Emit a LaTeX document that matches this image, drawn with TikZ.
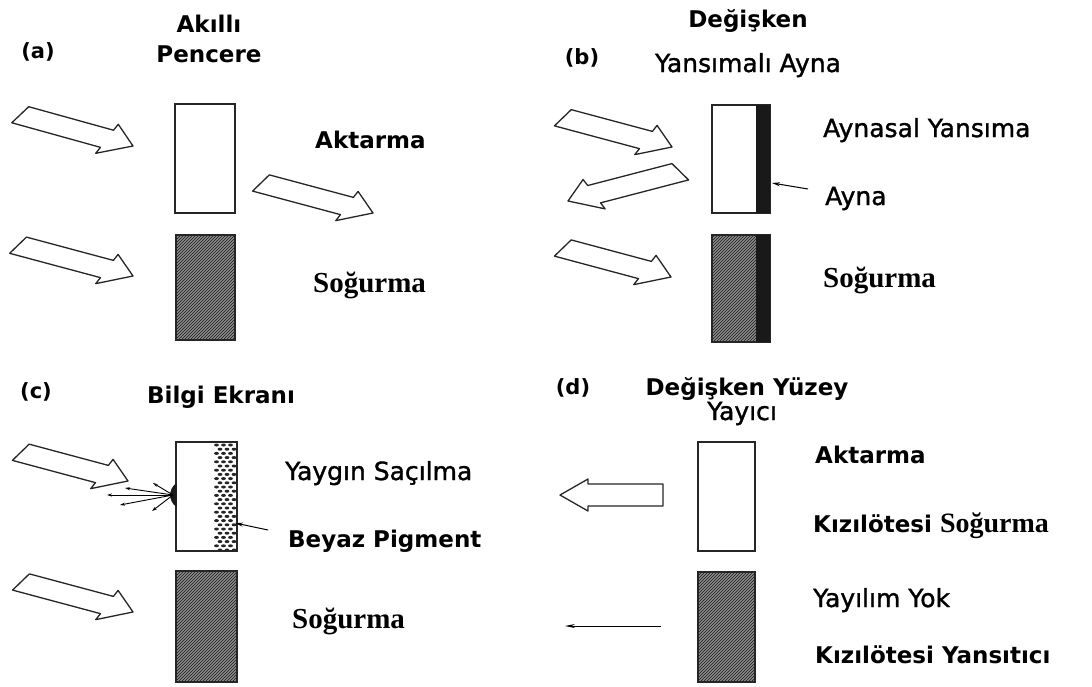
\documentclass[tikz,border=0pt]{standalone}
\usepackage{fontspec}
\setmainfont{DejaVu Sans}
\newfontfamily\serifb{Liberation Serif}
\newfontfamily\medfont{DejaVu Sans}[BoldFont={DejaVu Sans}, BoldFeatures={FakeBold=1.3}]
\usetikzlibrary{arrows.meta,patterns}
\newcommand{\barrow}[5]{%
  \draw[barrowsty, shift={(#1,#2)}, rotate=#3, yscale=#5]
    (0,0) -- (-20,-17) -- (-23,-10) -- ({-#4+12},-10) -- (-#4,10) -- (-31,10) -- (-34,17) -- cycle;}
\begin{document}
\begin{tikzpicture}[x=1pt,y=-1pt,
  lbl/.style={font=\fontsize{23}{26}\selectfont\bfseries, inner sep=0pt},
  lblr/.style={font=\fontsize{25}{28}\selectfont\medfont\bfseries, inner sep=0pt},
  ser/.style={font=\fontsize{29}{32}\selectfont\serifb\bfseries, inner sep=0pt},
  tag/.style={font=\fontsize{21}{24}\selectfont\bfseries, inner sep=0pt},
  win/.style={draw=black!85, line width=1.5pt, fill=white, inner sep=0pt},
  hatchbox/.style={draw=black!85, line width=1.5pt, inner sep=0pt, preaction={fill=black!45}, pattern=north east lines, pattern color=black!90},
  barrowsty/.style={draw=black!85, line width=1.3pt, fill=white, line join=round},
  ptr/.style={line width=1pt, -{Stealth[length=8pt,width=4pt]}},
  ray/.style={line width=0.9pt, -{Stealth[length=5pt,width=3pt]}},
]
\useasboundingbox (0,0) rectangle (1092,686);
\fill[white] (0,0) rectangle (1092,686);

% ---------- (a) ----------
\node[tag, anchor=base] (la) at (38,58) {(a)};
\node[lbl, anchor=base] (ta1) at (209,32) {Akıllı};
\node[lbl, anchor=base] (ta2) at (209,62) {Pencere};
\node[win, minimum width=60, minimum height=109] (wa) at (205,158.5) {};
\node[hatchbox, minimum width=59, minimum height=105] (ha) at (205.5,287.5) {};
\barrow{133}{146}{-15.5}{123}{1}
\barrow{133}{276}{-15}{125}{1}
\barrow{373}{213}{-15}{122}{1}
\node[lbl, anchor=base west] (aa) at (315,148) {Aktarma};
\node[ser, anchor=base west] (sa) at (313,292) {Soğurma};

% ---------- (b) ----------
\node[tag, anchor=base] (lb) at (582,64) {(b)};
\node[lbl, anchor=base] (tb1) at (748,27) {Değişken};
\node[lblr, anchor=base] (tb2) at (748,72) {Yansımalı Ayna};
\node[win, minimum width=58, minimum height=108] (wb) at (741,159) {};
\fill[black!90] (756,105) rectangle (770,213);
\node[hatchbox, minimum width=58, minimum height=107] (hb) at (741,288.5) {};
\fill[black!90] (756,235) rectangle (770,342);
\barrow{672}{147}{-15}{119}{1}
\barrow{568}{201}{194.6}{122}{-1}
\barrow{671}{277}{-15}{118}{1}
\coordinate (mpa) at (808,189);
\coordinate (mpb) at (772,183);
\draw[ptr] (mpa) -- (mpb);
\node[lblr, anchor=base west] (ab) at (823,137) {Aynasal Yansıma};
\node[lblr, anchor=base west] (nb) at (825,205) {Ayna};
\node[ser, anchor=base west] (sb) at (823,287) {Soğurma};

% ---------- (c) ----------
\node[tag, anchor=base] (lc) at (36,398) {(c)};
\node[lbl, anchor=base] (tc) at (221,403) {Bilgi Ekranı};
\node[win, minimum width=61, minimum height=109] (wc) at (206.5,496.5) {};
\begin{scope}
  \clip (213,443) rectangle (236.2,550.2);
  \foreach \j in {0,...,25}{
    \pgfmathsetmacro\yy{445+4.2*\j}
    \pgfmathsetmacro\off{mod(\j,2)*3.5}
    \foreach \i in {0,1,2}{
      \fill[black!85] ({216.5+\off+7*\i},\yy) ellipse [x radius=2.4, y radius=1.5];
    }
  }
\end{scope}
\node[hatchbox, minimum width=61, minimum height=111] (hc) at (206.5,626.5) {};
\barrow{128}{481}{-15}{117}{1}
\barrow{133}{612}{-15}{122}{1}
\fill[black!90] (176.5,483) .. controls (168,489) and (168,501) .. (176.5,507) -- cycle;
\coordinate (so) at (173,495);
\coordinate (r1) at (153,483);
\coordinate (r2) at (125,488);
\coordinate (r3) at (107,495);
\coordinate (r4) at (120,505);
\coordinate (r5) at (152,511);
\foreach \r in {r1,r2,r3,r4,r5}{\draw[ray] (so) -- (\r);}
\coordinate (ppa) at (268,530);
\coordinate (ppb) at (235,523);
\draw[ptr] (ppa) -- (ppb);
\node[lblr, anchor=base west] (yc) at (285,480) {Yaygın Saçılma};
\node[lbl, anchor=base west] (bc) at (288,547) {Beyaz Pigment};
\node[ser, anchor=base west] (sc) at (292,628) {Soğurma};

% ---------- (d) ----------
\node[tag, anchor=base] (ld) at (573,394) {(d)};
\node[lbl, anchor=base] (td1) at (747,395) {Değişken Yüzey};
\node[lblr, anchor=base] (td2) at (742,420) {Yayıcı};
\node[win, minimum width=57, minimum height=109] (wd) at (726.5,496.5) {};
\node[hatchbox, minimum width=57, minimum height=110] (hd) at (726.5,627) {};
\draw[barrowsty] (560,495) -- (588,479) -- (588,484) -- (663,484) -- (663,506) -- (588,506) -- (588,511) -- cycle;
\coordinate (tla) at (661,626);
\coordinate (tlb) at (565,626);
\draw[line width=1pt, -{Stealth[length=10pt,width=4pt]}] (tla) -- (tlb);
\node[lbl, anchor=base west] (ad) at (815,463) {Aktarma};
\node[lbl, anchor=base west] (kd) at (813,532) {Kızılötesi {\fontsize{28}{30}\selectfont\serifb\bfseries Soğurma}};
\node[lblr, anchor=base west] (yd) at (813,607) {Yayılım Yok};
\node[lbl, anchor=base west] (kd2) at (815,663) {Kızılötesi Yansıtıcı};
\end{tikzpicture}
\end{document}
